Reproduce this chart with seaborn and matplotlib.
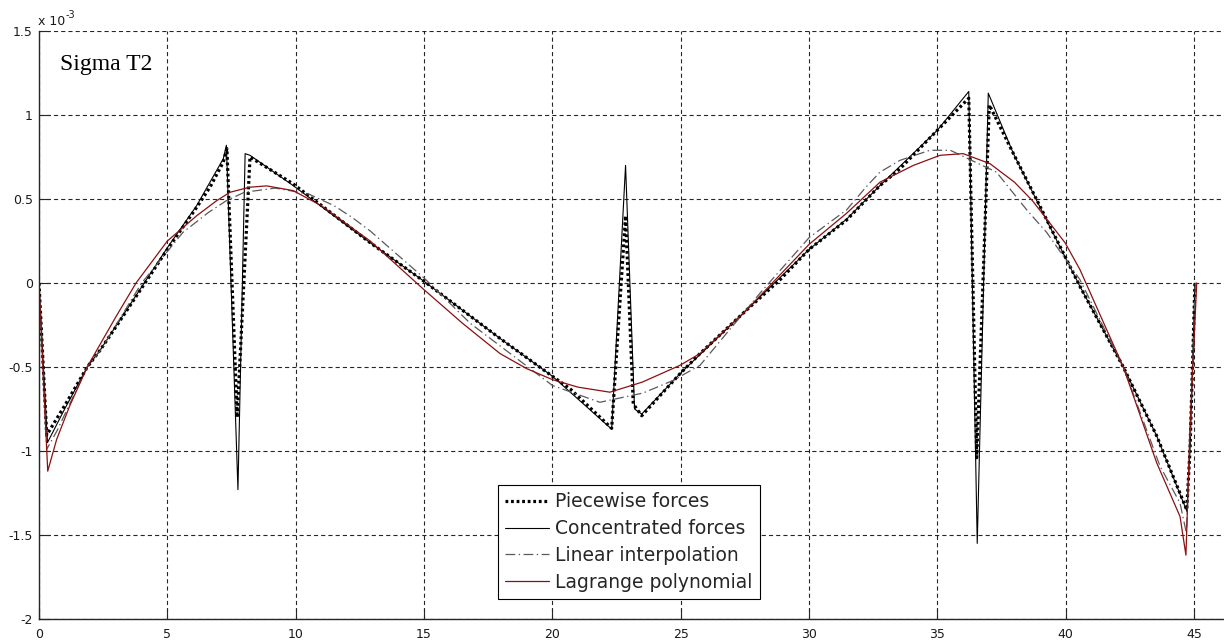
import numpy as np
import pandas as pd
import matplotlib
matplotlib.use("Agg")
import matplotlib.pyplot as plt
import seaborn as sns

# ---------------- data (values in units of 1e-3) ----------------
pw_x = [0, 0.30, 0.60, 1.0, 1.88, 2.38, 3.0, 4.13, 5.0, 6.14, 6.66, 7.18, 7.32, 7.72, 8.22, 9.9,
        12.9, 15.0, 17.96, 20.0, 20.69, 22.31, 22.85, 23.15, 23.48, 24.97, 25.75, 27.57, 28.87,
        30.0, 31.46, 32.76, 33.54, 35.0, 36.22, 36.53, 37.02, 37.96, 39.0, 40.55, 42.24, 43.54,
        44.71, 44.84, 45.03]
pw_y = [0, -0.905, -0.83, -0.73, -0.50, -0.40, -0.26, 0.0, 0.20, 0.45, 0.57, 0.72, 0.80, -0.80,
        0.75, 0.59, 0.24, 0.01, -0.33, -0.555, -0.63, -0.865, 0.40, -0.72, -0.79, -0.54, -0.42,
        -0.16, 0.02, 0.20, 0.375, 0.58, 0.68, 0.91, 1.10, -1.04, 1.06, 0.77, 0.455, -0.02, -0.50,
        -0.91, -1.35, -0.99, 0.0]

cf_x = [0, 0.33, 1.0, 1.88, 2.38, 4.1, 5.0, 6.14, 7.18, 7.30, 7.75, 8.03, 8.22, 9.9, 12.9, 15.0,
        17.96, 20.0, 22.31, 22.85, 23.2, 23.48, 24.97, 27.57, 30.0, 31.46, 32.76, 35.0, 36.22,
        36.55, 36.98, 37.96, 39.0, 40.55, 42.24, 43.54, 44.72, 44.85, 45.03]
cf_y = [0, -0.95, -0.75, -0.50, -0.40, 0.0, 0.21, 0.46, 0.74, 0.82, -1.23, 0.77, 0.76, 0.58, 0.24,
        0.01, -0.33, -0.555, -0.87, 0.70, -0.75, -0.78, -0.54, -0.16, 0.20, 0.38, 0.58, 0.91, 1.14,
        -1.55, 1.13, 0.77, 0.45, -0.02, -0.50, -0.91, -1.36, -0.95, 0.0]

li_x = [0, 0.30, 0.70, 1.88, 2.40, 4.0, 5.6, 6.6, 7.3, 8.0, 9.2, 10.5, 11.5, 12.2, 12.9, 15.0,
        16.8, 20.0, 21.85, 23.53, 24.7, 25.75, 28.09, 30.0, 31.46, 32.24, 32.76, 33.54, 34.7, 35.5,
        37.3, 38.48, 39.26, 40.55, 42.24, 43.67, 44.45, 44.7, 44.85, 45.05]
li_y = [0, -0.99, -0.88, -0.50, -0.40, 0.0, 0.30, 0.42, 0.49, 0.54, 0.565, 0.53, 0.46, 0.39, 0.31,
        0.03, -0.24, -0.61, -0.71, -0.655, -0.58, -0.49, -0.06, 0.27, 0.435, 0.575, 0.66, 0.73,
        0.79, 0.79, 0.66, 0.435, 0.30, 0.02, -0.50, -1.09, -1.31, -1.49, -0.90, 0.0]

lg_x = [0, 0.34, 0.69, 1.2, 1.88, 2.25, 3.0, 3.78, 5.0, 6.14, 6.92, 7.44, 8.2, 8.87, 9.9, 11.0,
        12.9, 15.0, 16.5, 17.96, 19.0, 20.0, 21.0, 22.24, 23.5, 24.97, 25.75, 27.57, 30.0, 31.46,
        32.76, 34.06, 35.1, 36.0, 37.05, 38.0, 38.7, 39.97, 40.55, 42.24, 43.54, 44.45, 44.68,
        44.84, 45.1]
lg_y = [0, -1.12, -0.93, -0.73, -0.50, -0.40, -0.20, 0.0, 0.25, 0.40, 0.49, 0.54, 0.57, 0.578,
        0.55, 0.46, 0.25, -0.04, -0.24, -0.42, -0.51, -0.575, -0.62, -0.65, -0.59, -0.49, -0.42,
        -0.16, 0.23, 0.415, 0.60, 0.70, 0.76, 0.77, 0.71, 0.60, 0.49, 0.24, 0.08, -0.50, -1.07,
        -1.39, -1.62, -0.85, 0.0]

series_labels = ["Piecewise forces", "Concentrated forces", "Linear interpolation", "Lagrange polynomial"]
x_ticks = [0, 5, 10, 15, 20, 25, 30, 35, 40, 45]
y_ticks = [-2, -1.5, -1, -0.5, 0, 0.5, 1, 1.5]
y_tick_labels = ["-2", "-1.5", "-1", "-0.5", "0", "0.5", "1", "1.5"]
title_text = "Sigma T2"

# ---------------- style ----------------
sns.set_theme(style="white")
plt.rcParams["font.family"] = ["DejaVu Sans"]
plt.rcParams["axes.unicode_minus"] = False
plt.rcParams["lines.scale_dashes"] = False

W, H = 1224, 643
fig = plt.figure(figsize=(W / 100, H / 100), dpi=100)
ax = fig.add_axes([39 / W, 24 / H, 1 - 39 / W, 588 / H])

df_pw = pd.DataFrame({"x": pw_x, "y": pw_y})
df_cf = pd.DataFrame({"x": cf_x, "y": cf_y})
df_li = pd.DataFrame({"x": li_x, "y": li_y})
df_lg = pd.DataFrame({"x": lg_x, "y": lg_y})

sns.lineplot(data=df_pw, x="x", y="y", ax=ax, sort=False, estimator=None, color="black",
             linewidth=2.3, linestyle=(0, (2.0, 2.0)), dash_capstyle="butt", label=series_labels[0])
sns.lineplot(data=df_cf, x="x", y="y", ax=ax, sort=False, estimator=None, color="black",
             linewidth=0.8, label=series_labels[1])
sns.lineplot(data=df_li, x="x", y="y", ax=ax, sort=False, estimator=None, color="#5a5a5a",
             linewidth=0.9, linestyle=(0, (7, 2.5, 1, 2.5)), label=series_labels[2])
sns.lineplot(data=df_lg, x="x", y="y", ax=ax, sort=False, estimator=None, color="#8b1010",
             linewidth=0.9, label=series_labels[3])

ax.set_xlim(0, (W - 39) / 25.67)
ax.set_ylim(-2, 1.5)
ax.set_xticks(x_ticks)
ax.set_xticklabels([str(v) for v in x_ticks])
ax.set_yticks(y_ticks)
ax.set_yticklabels(y_tick_labels)
ax.set_xlabel("")
ax.set_ylabel("")

ax.set_axisbelow(True)
ax.grid(True, color="black", linestyle=(0, (3, 2.2)), linewidth=0.8, alpha=0.85)

for s in ["top", "right"]:
    ax.spines[s].set_visible(False)
for s in ["left", "bottom"]:
    ax.spines[s].set_color("#262626")
    ax.spines[s].set_linewidth(1.0)

ax.tick_params(axis="both", which="major", direction="in", length=8, width=0.8,
               colors="#262626", labelsize=9, labelcolor="#1a1a1a")
ax.tick_params(axis="x", pad=6.5, bottom=True)
ax.tick_params(axis="y", pad=4.3, left=True)

# exponent label: "x 10" followed by a raised "-3"
base_txt = fig.text(38 / W, 1 - 25 / H, "x 10", fontsize=9, color="#1a1a1a", va="baseline", ha="left")
fig.canvas.draw()
bb = base_txt.get_window_extent(renderer=fig.canvas.get_renderer())
fig.text((bb.x1 + 0.5) / W, 1 - 18 / H, "-3", fontsize=7, color="#1a1a1a", va="baseline", ha="left")

# title text inside axes
fig.text(60 / W, 1 - 70 / H, title_text, fontsize=17, family=["Liberation Serif", "DejaVu Serif"],
         color="black", va="baseline", ha="left")

leg = ax.legend(loc="lower left", bbox_to_anchor=(498 / W, 44 / H), bbox_transform=fig.transFigure,
                borderaxespad=0, fancybox=False, framealpha=1, edgecolor="black",
                prop={"family": "DejaVu Sans", "size": 13.5}, labelspacing=0.42, borderpad=0.38,
                handlelength=2.35, handletextpad=0.32)
leg.get_frame().set_linewidth(0.8)

fig.savefig("out.png", dpi=100)
